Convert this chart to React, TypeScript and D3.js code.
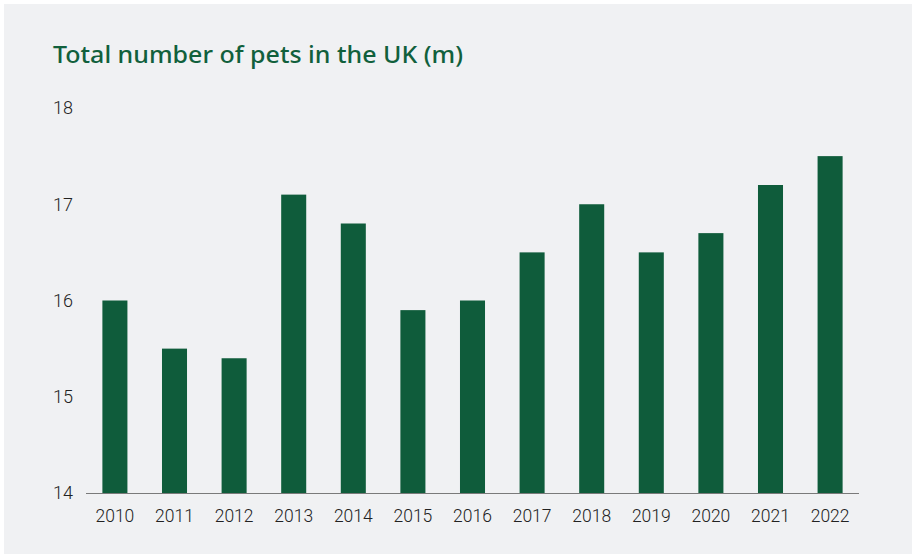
import React from "react";
import * as d3 from "d3";

const years = ["2010","2011","2012","2013","2014","2015","2016","2017","2018","2019","2020","2021","2022"];
const pets = [16.0, 15.5, 15.4, 17.1, 16.8, 15.9, 16.0, 16.5, 17.0, 16.5, 16.7, 17.2, 17.5];
const yTicks = [14, 15, 16, 17, 18];
const title = "Total number of pets in the UK (m)";

const W = 912, H = 554;

export default function App() {
  const x = d3.scaleBand<string>().domain(years).range([86, 859]).paddingInner(0.58).paddingOuter(0.275);
  const y = d3.scaleLinear().domain([14, 18]).range([493, 108]);
  return (
    <svg width={W} height={H} style={{ position: "absolute", left: 0, top: 0 }}>
      <rect x={0} y={0} width={W} height={H} fill="#ffffff" />
      <rect x={4} y={4} width={W - 4} height={H - 4} fill="#f0f1f3" />
      <text x={53} y={63} fontFamily="'Noto Sans'" fontWeight={500} fontSize={24} fill="#11603c" textLength={410} lengthAdjust="spacingAndGlyphs">{title}</text>
      {pets.map((v, i) => (
        <rect key={years[i]} x={x(years[i])} y={y(v)} width={x.bandwidth()} height={y(14) - y(v)} fill="#0f5c3b" />
      ))}
      <line x1={86} x2={859} y1={y(14) + 0.5} y2={y(14) + 0.5} stroke="#7a7a7a" strokeWidth={1} />
      {yTicks.map(t => (
        <text key={t} x={73} y={y(t)} dy="0.35em" textAnchor="end" fontFamily="Roboto" fontWeight={300} fontSize={18} fill="#222">{t}</text>
      ))}
      {years.map(yr => (
        <text key={yr} x={(x(yr) ?? 0) + x.bandwidth() / 2} y={522} textAnchor="middle" fontFamily="Roboto" fontWeight={300} fontSize={17.5} fill="#222">{yr}</text>
      ))}
    </svg>
  );
}
